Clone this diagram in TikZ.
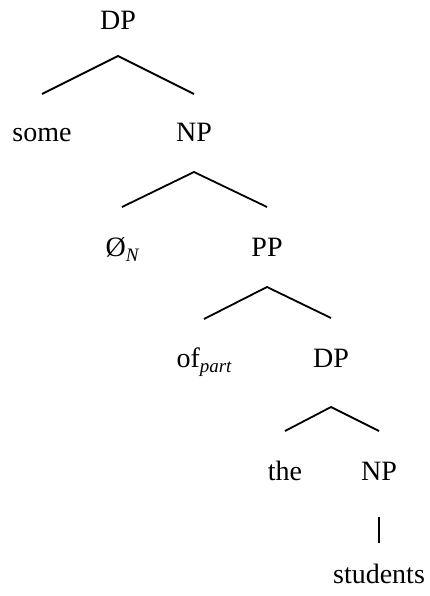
\documentclass[tikz,border=0pt]{standalone}
\usepackage{fontspec}
\setmainfont{Liberation Serif}
\newcommand{\subtxt}[1]{\raisebox{-5pt}{\fontsize{19}{20}\selectfont\itshape #1}}
\begin{document}
\begin{tikzpicture}[x=1pt,y=-1pt,
  lab/.style={anchor=base,inner sep=0pt,font=\fontsize{28}{30}\selectfont},
  branch/.style={line width=1.8pt}]
\useasboundingbox (0,0) rectangle (430,596);
\node[lab] (dp1) at (118,30) {DP};
\node[lab] (some) at (42,142) {some};
\node[lab] (np1) at (194,142) {NP};
\node[lab] (null) at (122,256) {Ø\subtxt{N}};
\node[lab] (pp) at (267,256) {PP};
\node[lab] (of) at (204,367) {of\subtxt{part}};
\node[lab] (dp2) at (331,367) {DP};
\node[lab] (the) at (285,480) {the};
\node[lab] (np2) at (379,480) {NP};
\node[lab] (students) at (379,583) {students};
\draw[branch] ([yshift=48pt]some.base) -- ([yshift=-26pt]dp1.base) -- ([yshift=48pt]np1.base);
\draw[branch] ([yshift=49pt]null.base) -- ([yshift=-30pt]np1.base) -- ([yshift=49pt]pp.base);
\draw[branch] ([yshift=48pt]of.base) -- ([yshift=-31pt]pp.base) -- ([yshift=49pt]dp2.base);
\draw[branch] ([yshift=49pt]the.base) -- ([yshift=-40pt]dp2.base) -- ([yshift=49pt]np2.base);
\draw[branch] ([yshift=-37pt]np2.base) -- ([yshift=40pt]students.base);
\end{tikzpicture}
\end{document}
